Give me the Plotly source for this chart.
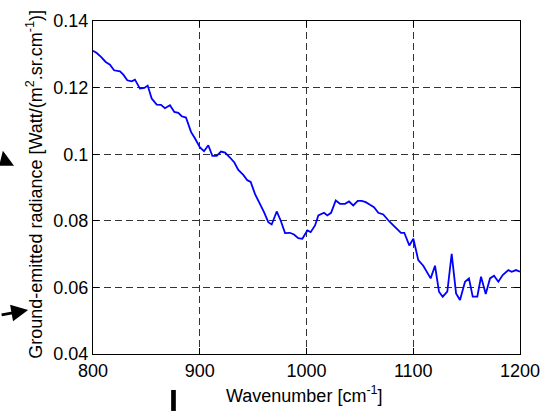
import plotly.graph_objects as go

# wavenumber [cm^-1] and radiance values
wavenumber = [
    800, 803.5, 807.5, 811.9, 815.9, 819.7, 825.3, 828.4, 832.1, 836.3,
    839.3, 844, 848.1, 851.2, 855, 859.7, 863.7, 867.4, 872.1, 876.2,
    879.9, 883.1, 887.1, 891.8, 895.6, 900.2, 904, 908, 911.8, 915.9,
    919.9, 923.7, 928.3, 932.4, 936.1, 940.8, 944.5, 947.7, 951.8, 956.4,
    960.2, 964.2, 967.4, 972.1, 975.8, 979.9, 984.5, 988.3, 992.3, 996.1,
    1000.8, 1003.9, 1008, 1011.1, 1016.4, 1019.5, 1023, 1027.4, 1031.4, 1036.1,
    1039.8, 1043.8, 1048, 1051.7, 1055.5, 1059.5, 1063.2, 1067.3, 1071.9, 1077.6,
    1083.8, 1088.5, 1091.6, 1096.3, 1100.1, 1104.7, 1109.4, 1116.3, 1120.4, 1124.1,
    1127.6, 1131.9, 1136, 1140.1, 1143.8, 1148.5, 1152.2, 1155.7, 1160, 1163.5,
    1167.9, 1171.9, 1175.7, 1179.7, 1183.8, 1189.1, 1192.2, 1196.3, 1200,
]
radiance = [
    0.1311, 0.1304, 0.1292, 0.1277, 0.1269, 0.1252, 0.1249, 0.1239, 0.1222, 0.1219,
    0.1224, 0.1197, 0.1199, 0.1206, 0.1167, 0.1149, 0.1148, 0.1138, 0.1147, 0.1127,
    0.1124, 0.1114, 0.1110, 0.1067, 0.1047, 0.1020, 0.1009, 0.1027, 0.0995, 0.0995,
    0.1008, 0.1005, 0.0990, 0.0975, 0.0953, 0.0938, 0.0922, 0.0917, 0.0880, 0.0851,
    0.0826, 0.0796, 0.0789, 0.0828, 0.0801, 0.0763, 0.0764, 0.0759, 0.0748, 0.0746,
    0.0771, 0.0766, 0.0786, 0.0816, 0.0824, 0.0816, 0.0824, 0.0861, 0.0851, 0.0851,
    0.0858, 0.0846, 0.0860, 0.0860, 0.0856, 0.0848, 0.0841, 0.0824, 0.0819, 0.0798,
    0.0778, 0.0764, 0.0764, 0.0726, 0.0746, 0.0682, 0.0665, 0.0627, 0.0665, 0.0587,
    0.0572, 0.0587, 0.0701, 0.0582, 0.0562, 0.0617, 0.0627, 0.0572, 0.0572, 0.0632,
    0.0580, 0.0627, 0.0635, 0.0617, 0.0637, 0.0652, 0.0647, 0.0652, 0.0647,
]
x_ticks = [800, 900, 1000, 1100, 1200]
y_ticks = [0.04, 0.06, 0.08, 0.1, 0.12, 0.14]
y_tick_text = ['0.04', '0.06', '0.08', '0.1', '0.12', '0.14']

FONT = 'Liberation Sans, Arial, sans-serif'

fig = go.Figure()

fig.add_trace(go.Scatter(
    x=wavenumber, y=radiance,
    mode='lines',
    line=dict(color='#0000ff', width=1.8),
    showlegend=False,
))

axis_style = dict(
    showline=True, linecolor='black', linewidth=1, mirror='ticks',
    ticks='inside', ticklen=6, tickcolor='black',
    showgrid=True, gridcolor='#333333', griddash='7px,4px', gridwidth=1,
    zeroline=False,
    tickfont=dict(family=FONT, size=18, color='black'),
)

fig.update_layout(
    width=559, height=411,
    paper_bgcolor='white',
    plot_bgcolor='white',
    margin=dict(l=93, r=39, t=21, b=57),
    xaxis=dict(range=[800, 1200], tickvals=x_ticks, **axis_style),
    yaxis=dict(range=[0.04, 0.14], tickvals=y_ticks, ticktext=y_tick_text,
               **axis_style),
)

# axis titles
fig.add_annotation(
    text='Wavenumber [cm<sup>-1</sup>]',
    xref='paper', yref='paper', x=0.496, y=-0.123,
    xanchor='center', yanchor='middle', showarrow=False,
    font=dict(family=FONT, size=18, color='black'),
)
fig.add_annotation(
    text='Ground-emitted radiance [Watt/(m<sup>2</sup>.sr.cm<sup>-1</sup>)]',
    xref='paper', yref='paper', x=-0.137, y=0.51,
    xanchor='center', yanchor='middle', textangle=-90, showarrow=False,
    font=dict(family=FONT, size=18, color='black'),
)

# stray marks at the edges of the cropped figure
fig.add_shape(type='path', xref='paper', yref='paper',
              path='M -0.22 0.565 L -0.211 0.61 L -0.185 0.565 Z',
              fillcolor='black', line=dict(width=0))
fig.add_annotation(
    xref='paper', yref='paper', x=-0.152, y=0.132,
    ax=-28, ay=5,
    showarrow=True, arrowhead=2, arrowsize=1.2, arrowwidth=2.8,
    arrowcolor='black', text='',
)
fig.add_shape(type='rect', xref='paper', yref='paper',
              x0=0.183, x1=0.194, y0=-0.171, y1=-0.108,
              fillcolor='black', line=dict(width=0))

fig.write_html('out.html', config={'displayModeBar': False},
               post_script="document.body.style.margin='0';")
